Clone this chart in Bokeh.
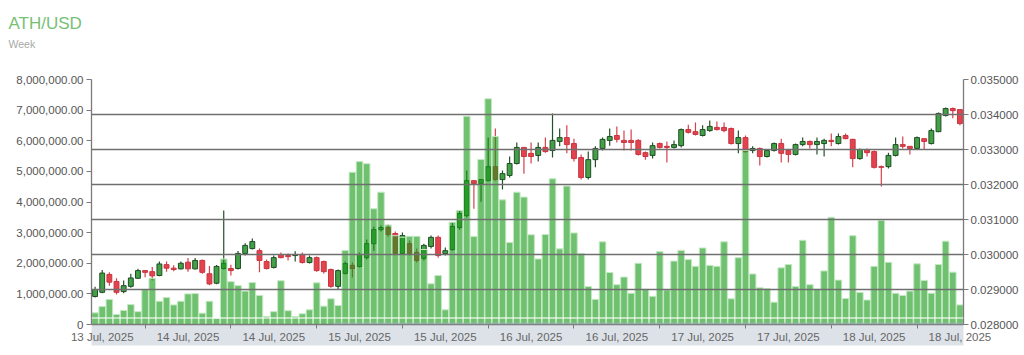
from bokeh.plotting import figure
from bokeh.models import (Range1d, LinearAxis, FixedTicker, Grid, BoxAnnotation,
                          Label, ColumnDataSource, Spacer)
from bokeh.layouts import column
from bokeh.embed import file_html
from bokeh.resources import INLINE

title_text = "ATH/USD"
subtitle_text = "Week"

opens = [0.02880, 0.02892, 0.02943, 0.02923, 0.02894, 0.02909, 0.02932, 0.02954, 0.02951, 0.02940,
         0.02971, 0.02961, 0.02959, 0.02978, 0.02959, 0.02983, 0.02945, 0.02918, 0.02960, 0.02960,
         0.02960, 0.03003, 0.03017, 0.03011, 0.02980, 0.02963, 0.03000, 0.02997, 0.02997, 0.03000,
         0.02977, 0.02991, 0.02980, 0.02957, 0.02909, 0.02946, 0.02969, 0.02966, 0.02991, 0.03031,
         0.03071, 0.03077, 0.03060, 0.03003, 0.03031, 0.03006, 0.02989, 0.03023, 0.03049, 0.03003,
         0.03014, 0.03077, 0.03111, 0.03211, 0.03203, 0.03211, 0.03251, 0.03214, 0.03226, 0.03260,
         0.03306, 0.03289, 0.03283, 0.03306, 0.03297, 0.03323, 0.03334, 0.03317, 0.03277, 0.03220,
         0.03271, 0.03303, 0.03326, 0.03340, 0.03326, 0.03326, 0.03326, 0.03291, 0.03283, 0.03317,
         0.03309, 0.03306, 0.03311, 0.03357, 0.03351, 0.03340, 0.03354, 0.03363, 0.03363, 0.03360,
         0.03317, 0.03334, 0.03297, 0.03303, 0.03280, 0.03297, 0.03317, 0.03297, 0.03286, 0.03314,
         0.03323, 0.03314, 0.03317, 0.03326, 0.03317, 0.03340, 0.03329, 0.03274, 0.03300, 0.03294,
         0.03251, 0.03251, 0.03283, 0.03314, 0.03309, 0.03303, 0.03331, 0.03317, 0.03351, 0.03397,
         0.03417, 0.03414]

closes = [0.02900, 0.02947, 0.02921, 0.02892, 0.02911, 0.02933, 0.02954, 0.02949, 0.02939, 0.02973,
          0.02961, 0.02957, 0.02975, 0.02959, 0.02983, 0.02949, 0.02916, 0.02966, 0.02975, 0.02954,
          0.03003, 0.03026, 0.03037, 0.02983, 0.02960, 0.02991, 0.02991, 0.02994, 0.03000, 0.02977,
          0.02991, 0.02954, 0.02951, 0.02909, 0.02954, 0.02974, 0.02960, 0.03000, 0.03031, 0.03071,
          0.03077, 0.03057, 0.03003, 0.03054, 0.03003, 0.02983, 0.03026, 0.03049, 0.02997, 0.03011,
          0.03080, 0.03117, 0.03211, 0.03203, 0.03214, 0.03251, 0.03214, 0.03231, 0.03260, 0.03306,
          0.03280, 0.03280, 0.03306, 0.03294, 0.03326, 0.03334, 0.03314, 0.03274, 0.03220, 0.03271,
          0.03303, 0.03329, 0.03337, 0.03329, 0.03320, 0.03320, 0.03286, 0.03280, 0.03311, 0.03306,
          0.03306, 0.03314, 0.03357, 0.03349, 0.03343, 0.03357, 0.03366, 0.03357, 0.03354, 0.03317,
          0.03334, 0.03294, 0.03303, 0.03280, 0.03297, 0.03317, 0.03289, 0.03286, 0.03314, 0.03323,
          0.03314, 0.03323, 0.03326, 0.03323, 0.03337, 0.03331, 0.03274, 0.03300, 0.03291, 0.03249,
          0.03249, 0.03283, 0.03314, 0.03309, 0.03303, 0.03334, 0.03323, 0.03354, 0.03403, 0.03417,
          0.03411, 0.03374]

highs = [0.02908, 0.02956, 0.02949, 0.02932, 0.02926, 0.02945, 0.02959, 0.02956, 0.02964, 0.02980,
         0.02980, 0.02969, 0.02980, 0.02990, 0.02990, 0.02986, 0.02967, 0.02970, 0.03126, 0.02971,
         0.03010, 0.03032, 0.03046, 0.03017, 0.02986, 0.02997, 0.03006, 0.03003, 0.03009, 0.03006,
         0.02997, 0.02994, 0.02983, 0.02960, 0.02957, 0.02980, 0.02977, 0.03006, 0.03043, 0.03080,
         0.03083, 0.03086, 0.03066, 0.03063, 0.03040, 0.03017, 0.03031, 0.03054, 0.03054, 0.03020,
         0.03091, 0.03126, 0.03240, 0.03211, 0.03214, 0.03334, 0.03360, 0.03240, 0.03280, 0.03320,
         0.03306, 0.03320, 0.03320, 0.03334, 0.03403, 0.03360, 0.03369, 0.03331, 0.03286, 0.03294,
         0.03309, 0.03334, 0.03360, 0.03366, 0.03354, 0.03357, 0.03329, 0.03294, 0.03320, 0.03320,
         0.03323, 0.03326, 0.03360, 0.03371, 0.03377, 0.03369, 0.03383, 0.03380, 0.03377, 0.03363,
         0.03354, 0.03340, 0.03309, 0.03306, 0.03300, 0.03320, 0.03331, 0.03300, 0.03317, 0.03334,
         0.03326, 0.03334, 0.03331, 0.03346, 0.03346, 0.03346, 0.03331, 0.03303, 0.03303, 0.03297,
         0.03254, 0.03291, 0.03334, 0.03337, 0.03309, 0.03337, 0.03331, 0.03360, 0.03406, 0.03420,
         0.03420, 0.03414]

lows = [0.02877, 0.02889, 0.02911, 0.02886, 0.02889, 0.02905, 0.02930, 0.02935, 0.02926, 0.02938,
        0.02951, 0.02952, 0.02957, 0.02951, 0.02957, 0.02945, 0.02912, 0.02915, 0.02957, 0.02940,
        0.02957, 0.02997, 0.03014, 0.02949, 0.02957, 0.02960, 0.02989, 0.02983, 0.02980, 0.02974,
        0.02974, 0.02951, 0.02946, 0.02905, 0.02900, 0.02943, 0.02934, 0.02963, 0.02986, 0.03011,
        0.03066, 0.03051, 0.02997, 0.03000, 0.02997, 0.02977, 0.02983, 0.03017, 0.02991, 0.02997,
        0.03011, 0.03071, 0.03106, 0.03131, 0.03151, 0.03209, 0.03211, 0.03186, 0.03220, 0.03257,
        0.03231, 0.03260, 0.03266, 0.03291, 0.03277, 0.03309, 0.03289, 0.03266, 0.03214, 0.03214,
        0.03249, 0.03297, 0.03311, 0.03320, 0.03297, 0.03297, 0.03283, 0.03271, 0.03274, 0.03303,
        0.03263, 0.03303, 0.03306, 0.03346, 0.03340, 0.03337, 0.03351, 0.03354, 0.03349, 0.03314,
        0.03289, 0.03291, 0.03289, 0.03254, 0.03277, 0.03294, 0.03263, 0.03263, 0.03283, 0.03309,
        0.03303, 0.03286, 0.03280, 0.03309, 0.03314, 0.03329, 0.03249, 0.03271, 0.03280, 0.03246,
        0.03194, 0.03246, 0.03280, 0.03303, 0.03286, 0.03300, 0.03300, 0.03314, 0.03349, 0.03394,
        0.03389, 0.03369]

volumes = [380000, 590000, 820000, 330000, 460000, 650000, 420000, 1140000, 1510000, 760000,
           880000, 640000, 760000, 1000000, 1010000, 370000, 760000, 200000, 2140000, 1400000,
           1270000, 1090000, 1370000, 950000, 260000, 420000, 1430000, 450000, 260000, 350000,
           480000, 1360000, 600000, 840000, 620000, 2420000, 4970000, 5320000, 5250000, 3780000,
           4320000, 3250000, 2900000, 2850000, 2880000, 2880000, 2450000, 1330000, 1600000, 480000,
           3340000, 3720000, 6800000, 2870000, 5390000, 7370000, 6140000, 4070000, 2680000, 4320000,
           4160000, 2930000, 2140000, 2940000, 4760000, 2470000, 4520000, 2990000, 2320000, 1240000,
           820000, 2700000, 1700000, 1300000, 1550000, 1020000, 2000000, 1150000, 920000, 2380000,
           1130000, 2070000, 2420000, 2120000, 1900000, 2500000, 1930000, 1900000, 2700000, 840000,
           2180000, 5680000, 1650000, 1200000, 1170000, 730000, 1850000, 1960000, 1240000, 2750000,
           1300000, 1150000, 1750000, 3500000, 1450000, 850000, 2900000, 1050000, 800000, 1900000,
           3400000, 2030000, 1020000, 950000, 1090000, 1980000, 1440000, 1020000, 1960000, 2720000,
           1710000, 640000]

x_tick_labels = ["13 Jul, 2025", "14 Jul, 2025", "14 Jul, 2025", "15 Jul, 2025", "15 Jul, 2025",
                 "16 Jul, 2025", "16 Jul, 2025", "17 Jul, 2025", "17 Jul, 2025", "18 Jul, 2025",
                 "18 Jul, 2025"]
volume_ticks = [0, 1000000, 2000000, 3000000, 4000000, 5000000, 6000000, 7000000, 8000000]
volume_tick_labels = ["0", "1,000,000.00", "2,000,000.00", "3,000,000.00", "4,000,000.00",
                      "5,000,000.00", "6,000,000.00", "7,000,000.00", "8,000,000.00"]
price_ticks = [0.028, 0.029, 0.030, 0.031, 0.032, 0.033, 0.034, 0.035]
price_tick_labels = ["0.028000", "0.029000", "0.030000", "0.031000", "0.032000", "0.033000",
                     "0.034000", "0.035000"]

FONT = "Liberation Sans"
W = 1024
HEAD_H = 72
n = len(closes)
idx = list(range(n))

# ---- header with title and subtitle ----
head = figure(width=W, height=HEAD_H, output_backend="svg", toolbar_location=None, title=None,
              x_range=Range1d(0, W), y_range=Range1d(0, HEAD_H),
              x_axis_location=None, y_axis_location=None, min_border=0,
              background_fill_color="white", border_fill_color="white")
head.outline_line_color = None
head.xgrid.visible = False
head.ygrid.visible = False
head_x = 8
if "frame_align" in head.properties():
    head.frame_align = False
else:
    head_x = 8 - 91
head.add_layout(Label(x=head_x, y=HEAD_H - 22.7, x_units="screen", y_units="screen",
                      text=title_text, text_font=FONT, text_font_size="17px",
                      text_color="#76c076", text_baseline="alphabetic", text_align="left"))
head.add_layout(Label(x=head_x, y=HEAD_H - 43.4, x_units="screen", y_units="screen",
                      text=subtitle_text, text_font=FONT, text_font_size="10.5px",
                      text_color="#a8a8a8", text_baseline="alphabetic", text_align="left"))

# ---- main chart ----
p = figure(width=W, height=274, output_backend="svg", toolbar_location=None, title=None,
           x_range=Range1d(-0.5, n - 0.5), y_range=Range1d(volume_ticks[0], volume_ticks[-1]),
           min_border_left=91, min_border_right=61, min_border_top=7, min_border_bottom=22,
           background_fill_color="white", border_fill_color="white")
if "frame_align" in p.properties():
    p.frame_align = False
p.outline_line_color = None
p.extra_y_ranges = {"price": Range1d(price_ticks[0], price_ticks[-1])}
p.xgrid.visible = False
p.ygrid.visible = False

def cdata(ids):
    return ColumnDataSource(dict(
        x=ids,
        high=[highs[i] for i in ids], low=[lows[i] for i in ids],
        top=[max(opens[i], closes[i]) for i in ids],
        bottom=[min(opens[i], closes[i]) for i in ids]))

up_ids = [i for i in idx if closes[i] >= opens[i]]
dn_ids = [i for i in idx if closes[i] < opens[i]]
up_src, dn_src = cdata(up_ids), cdata(dn_ids)

p.segment(x0="x", y0="low", x1="x", y1="high", source=up_src, y_range_name="price",
          line_color="#24502a", line_width=1.2)
p.vbar(x="x", width=0.68, top="top", bottom="bottom", source=up_src, y_range_name="price",
       fill_color="#43a047", line_color="#1f4d25", line_width=1)
p.segment(x0="x", y0="low", x1="x", y1="high", source=dn_src, y_range_name="price",
          line_color="#d6404c", line_width=1.2)
p.vbar(x="x", width=0.68, top="top", bottom="bottom", source=dn_src, y_range_name="price",
       fill_color="#e2434f", line_color="#c9343f", line_width=1)

# volume bars on top, translucent
p.vbar(x=idx, width=0.92, top=volumes, bottom=0,
       fill_color="#169a16", fill_alpha=0.62, line_color="#c4e9c4", line_width=1)

# grid from the price axis, drawn over the bars
grid = Grid(dimension=1, ticker=FixedTicker(ticks=price_ticks), y_range_name="price",
            grid_line_color="#6f6f6f", grid_line_width=1.3, level="annotation")
p.add_layout(grid)

# left axis (volume)
ax = p.yaxis[0]
ax.ticker = FixedTicker(ticks=volume_ticks)
ax.major_label_overrides = dict(zip(volume_ticks, volume_tick_labels))
ax.axis_line_color = "#7a7a7a"
ax.axis_line_width = 1.3
ax.major_tick_line_color = "#7a7a7a"
ax.major_tick_out = 5
ax.major_tick_in = 0
ax.minor_tick_line_color = None
ax.major_label_standoff = 3
ax.major_label_text_font = FONT
ax.major_label_text_font_size = "11.5px"
ax.major_label_text_color = "#555555"

# right axis (price)
rax = LinearAxis(y_range_name="price", ticker=FixedTicker(ticks=price_ticks),
                 major_label_overrides=dict(zip(price_ticks, price_tick_labels)))
rax.axis_line_color = "#7a7a7a"
rax.axis_line_width = 1.3
rax.major_tick_line_color = "#7a7a7a"
rax.major_tick_out = 5
rax.major_tick_in = 0
rax.minor_tick_line_color = None
rax.major_label_standoff = 2
rax.major_label_text_font = FONT
rax.major_label_text_font_size = "11.5px"
rax.major_label_text_color = "#555555"
p.add_layout(rax, "right")

# bottom axis: labels centred between tick marks
label_pos = [1 + 12 * k for k in range(len(x_tick_labels))]
tick_pos = [7 + 12 * k for k in range(len(x_tick_labels) - 1)]
xa = p.xaxis[0]
xa.ticker = FixedTicker(ticks=label_pos, minor_ticks=tick_pos)
xa.major_label_overrides = dict(zip(label_pos, x_tick_labels))
xa.axis_line_color = "#7a7a7a"
xa.axis_line_width = 1.3
xa.major_tick_line_color = None
xa.major_tick_out = 0
xa.major_tick_in = 0
xa.minor_tick_line_color = "#7a7a7a"
xa.minor_tick_out = 4
xa.minor_tick_in = 0
xa.major_label_standoff = 2
xa.major_label_text_font = FONT
xa.major_label_text_font_size = "11.5px"
xa.major_label_text_color = "#666666"
if "background_fill_color" in xa.properties():
    xa.background_fill_color = "#dde2e9"
    xa.background_fill_alpha = 1.0

# navigator parts inside the frame (screen units = frame relative, y up)
def frame_box(l, r, t, b, **kw):
    return BoxAnnotation(left=l, right=r, top=t, bottom=b,
                         left_units="screen", right_units="screen",
                         top_units="screen", bottom_units="screen", line_color=None, **kw)

p.add_layout(frame_box(0, 872, 7.5, 5.5, fill_color="white", fill_alpha=0.55))
p.add_layout(frame_box(242, 872, 2, 0, fill_color="#a3b1c9", fill_alpha=0.5))

layout = column(head, p, Spacer(width=W, height=9))
open("out.html", "w").write(file_html(layout, INLINE))
